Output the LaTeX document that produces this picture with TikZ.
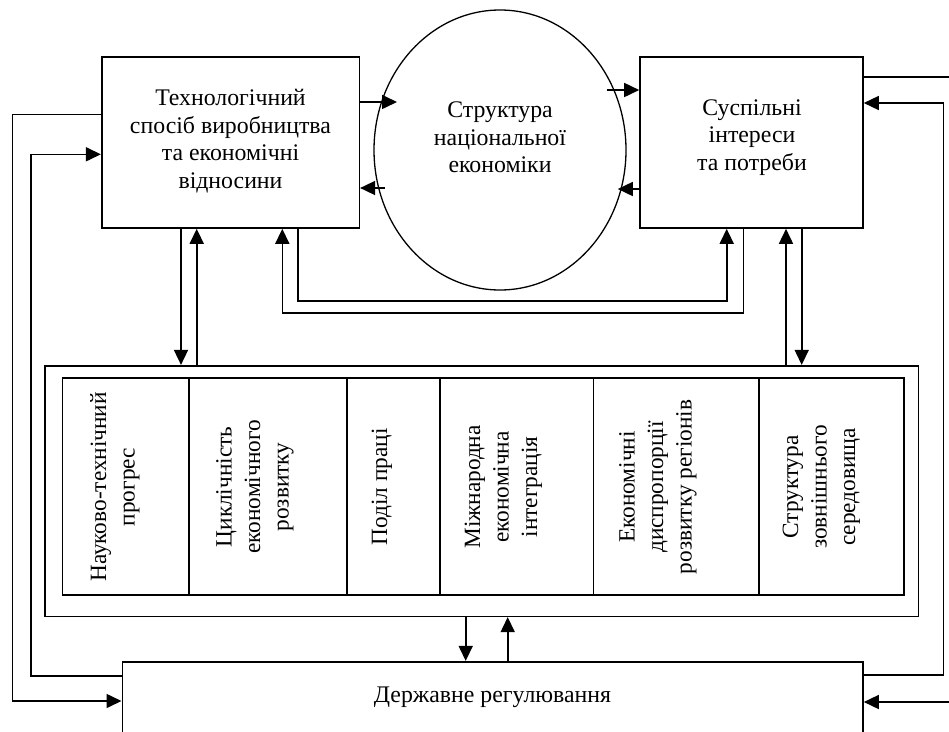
\documentclass[tikz,border=0pt]{standalone}
\usepackage{fontspec}
\setmainfont{Liberation Serif}
\usetikzlibrary{arrows.meta,shapes.geometric,calc}
\begin{document}
\begin{tikzpicture}[x=1pt,y=-1pt,
  box/.style={draw,line width=1.6pt,rectangle,inner sep=0pt},
  txt/.style={align=center,inner sep=0pt,font=\fontsize{23.8}{27.5}\selectfont},
  celltxt/.style={align=center,inner sep=0pt,rotate=90,font=\fontsize{23.3}{28.5}\selectfont},
  arr/.style={line width=1.6pt,-{Triangle[length=15pt,width=14pt]}},
  ln/.style={line width=1.6pt}]
\useasboundingbox (0,0) rectangle (949,731);
\clip (0,0) rectangle (949,731);
% main boxes
\node[box,minimum width=257.6pt,minimum height=171pt] (L) at (230.5,142.5) {};
\node[txt] (Ltxt) at (230.5,141) {Технологічний\\спосіб виробництва\\та економічні\\відносини};
\node[draw,ellipse,line width=1.3pt,inner sep=0pt,minimum width=252pt,minimum height=280pt] (E) at (500,150) {};
\node[txt] (Etxt) at (500,137.5) {Структура\\національної\\економіки};
\node[box,minimum width=223pt,minimum height=171pt] (R) at (751.5,142.5) {};
\node[txt] (Rtxt) at (752,137.5) {Суспільні\\інтереси\\та потреби};
% factor frame
\node[box,minimum width=873.3pt,minimum height=250.6pt] (F) at (481.65,491) {};
\node[box,minimum width=841.7pt,minimum height=217.3pt] (I) at (483.15,486.35) {};
\foreach \xx in {189,346.7,440,593.3,759}{
  \draw[ln] (\xx,377.7) -- (\xx,595);
}
\node[celltxt] (c1) at (115,487) {Науково-технічний\\прогрес};
\node[celltxt] (c2) at (255,487) {Циклічність\\економічного\\розвитку};
\node[celltxt] (c3) at (382,487) {Поділ праці};
\node[celltxt] (c4) at (503.5,487) {Міжнародна\\економічна\\інтеграція};
\node[celltxt] (c5) at (658,487) {Економічні\\диспропорції\\розвитку регіонів};
\node[celltxt] (c6) at (821.5,487) {Структура\\зовнішнього\\середовища};
% bottom box
\node[box,minimum width=740.7pt,minimum height=110pt] (B) at (492.65,716.7) {};
\node[txt] (Btxt) at (492.5,697) {Державне регулювання};
% coordinates
\coordinate (a1) at (397,102);
\coordinate (a2) at (385,188);
\coordinate (a3) at (606.6,90);
\coordinate (a4) at (617.8,189);
\coordinate (y7) at (297.7,300.7);
\coordinate (y7b) at (726.7,300.7);
\coordinate (y8) at (743.3,312.7);
\coordinate (y8b) at (282.3,312.7);
\coordinate (x5) at (181,0);
\coordinate (x6) at (196.7,0);
\coordinate (x9) at (786,0);
\coordinate (x10) at (801.7,0);
\coordinate (x11) at (465.7,0);
\coordinate (x12) at (507.7,0);
\coordinate (p13a) at (31,676);
\coordinate (p13b) at (31,154.3);
\coordinate (p14a) at (12.3,114.3);
\coordinate (p14b) at (12.3,701);
\coordinate (p15a) at (943.3,675);
\coordinate (p15b) at (943.3,103);
\coordinate (p16a) at (960,77);
\coordinate (p16b) at (960,702);
% connectors
\draw[arr] (L.east |- a1) -- (a1);
\draw[arr] (a2) -- (L.east |- a2);
\draw[arr] (a3) -- (R.west |- a3);
\draw[arr] (R.west |- a4) -- (a4);
\draw[arr] (L.south -| x5) -- (F.north -| x5);
\draw[arr] (F.north -| x6) -- (L.south -| x6);
\draw[arr] (L.south -| y7) -- (y7) -- (y7b) -- (R.south -| y7b);
\draw[arr] (R.south -| y8) -- (y8) -- (y8b) -- (L.south -| y8b);
\draw[arr] (F.north -| x9) -- (R.south -| x9);
\draw[arr] (R.south -| x10) -- (F.north -| x10);
\draw[arr] (F.south -| x11) -- (B.north -| x11);
\draw[arr] (B.north -| x12) -- (F.south -| x12);
\draw[arr] (B.west |- p13a) -- (p13a) -- (p13b) -- (L.west |- p13b);
\draw[arr] (L.west |- p14a) -- (p14a) -- (p14b) -- (B.west |- p14b);
\draw[arr] (B.east |- p15a) -- (p15a) -- (p15b) -- (R.east |- p15b);
\draw[arr] (R.east |- p16a) -- (p16a) -- (p16b) -- (B.east |- p16b);
\end{tikzpicture}
\end{document}
